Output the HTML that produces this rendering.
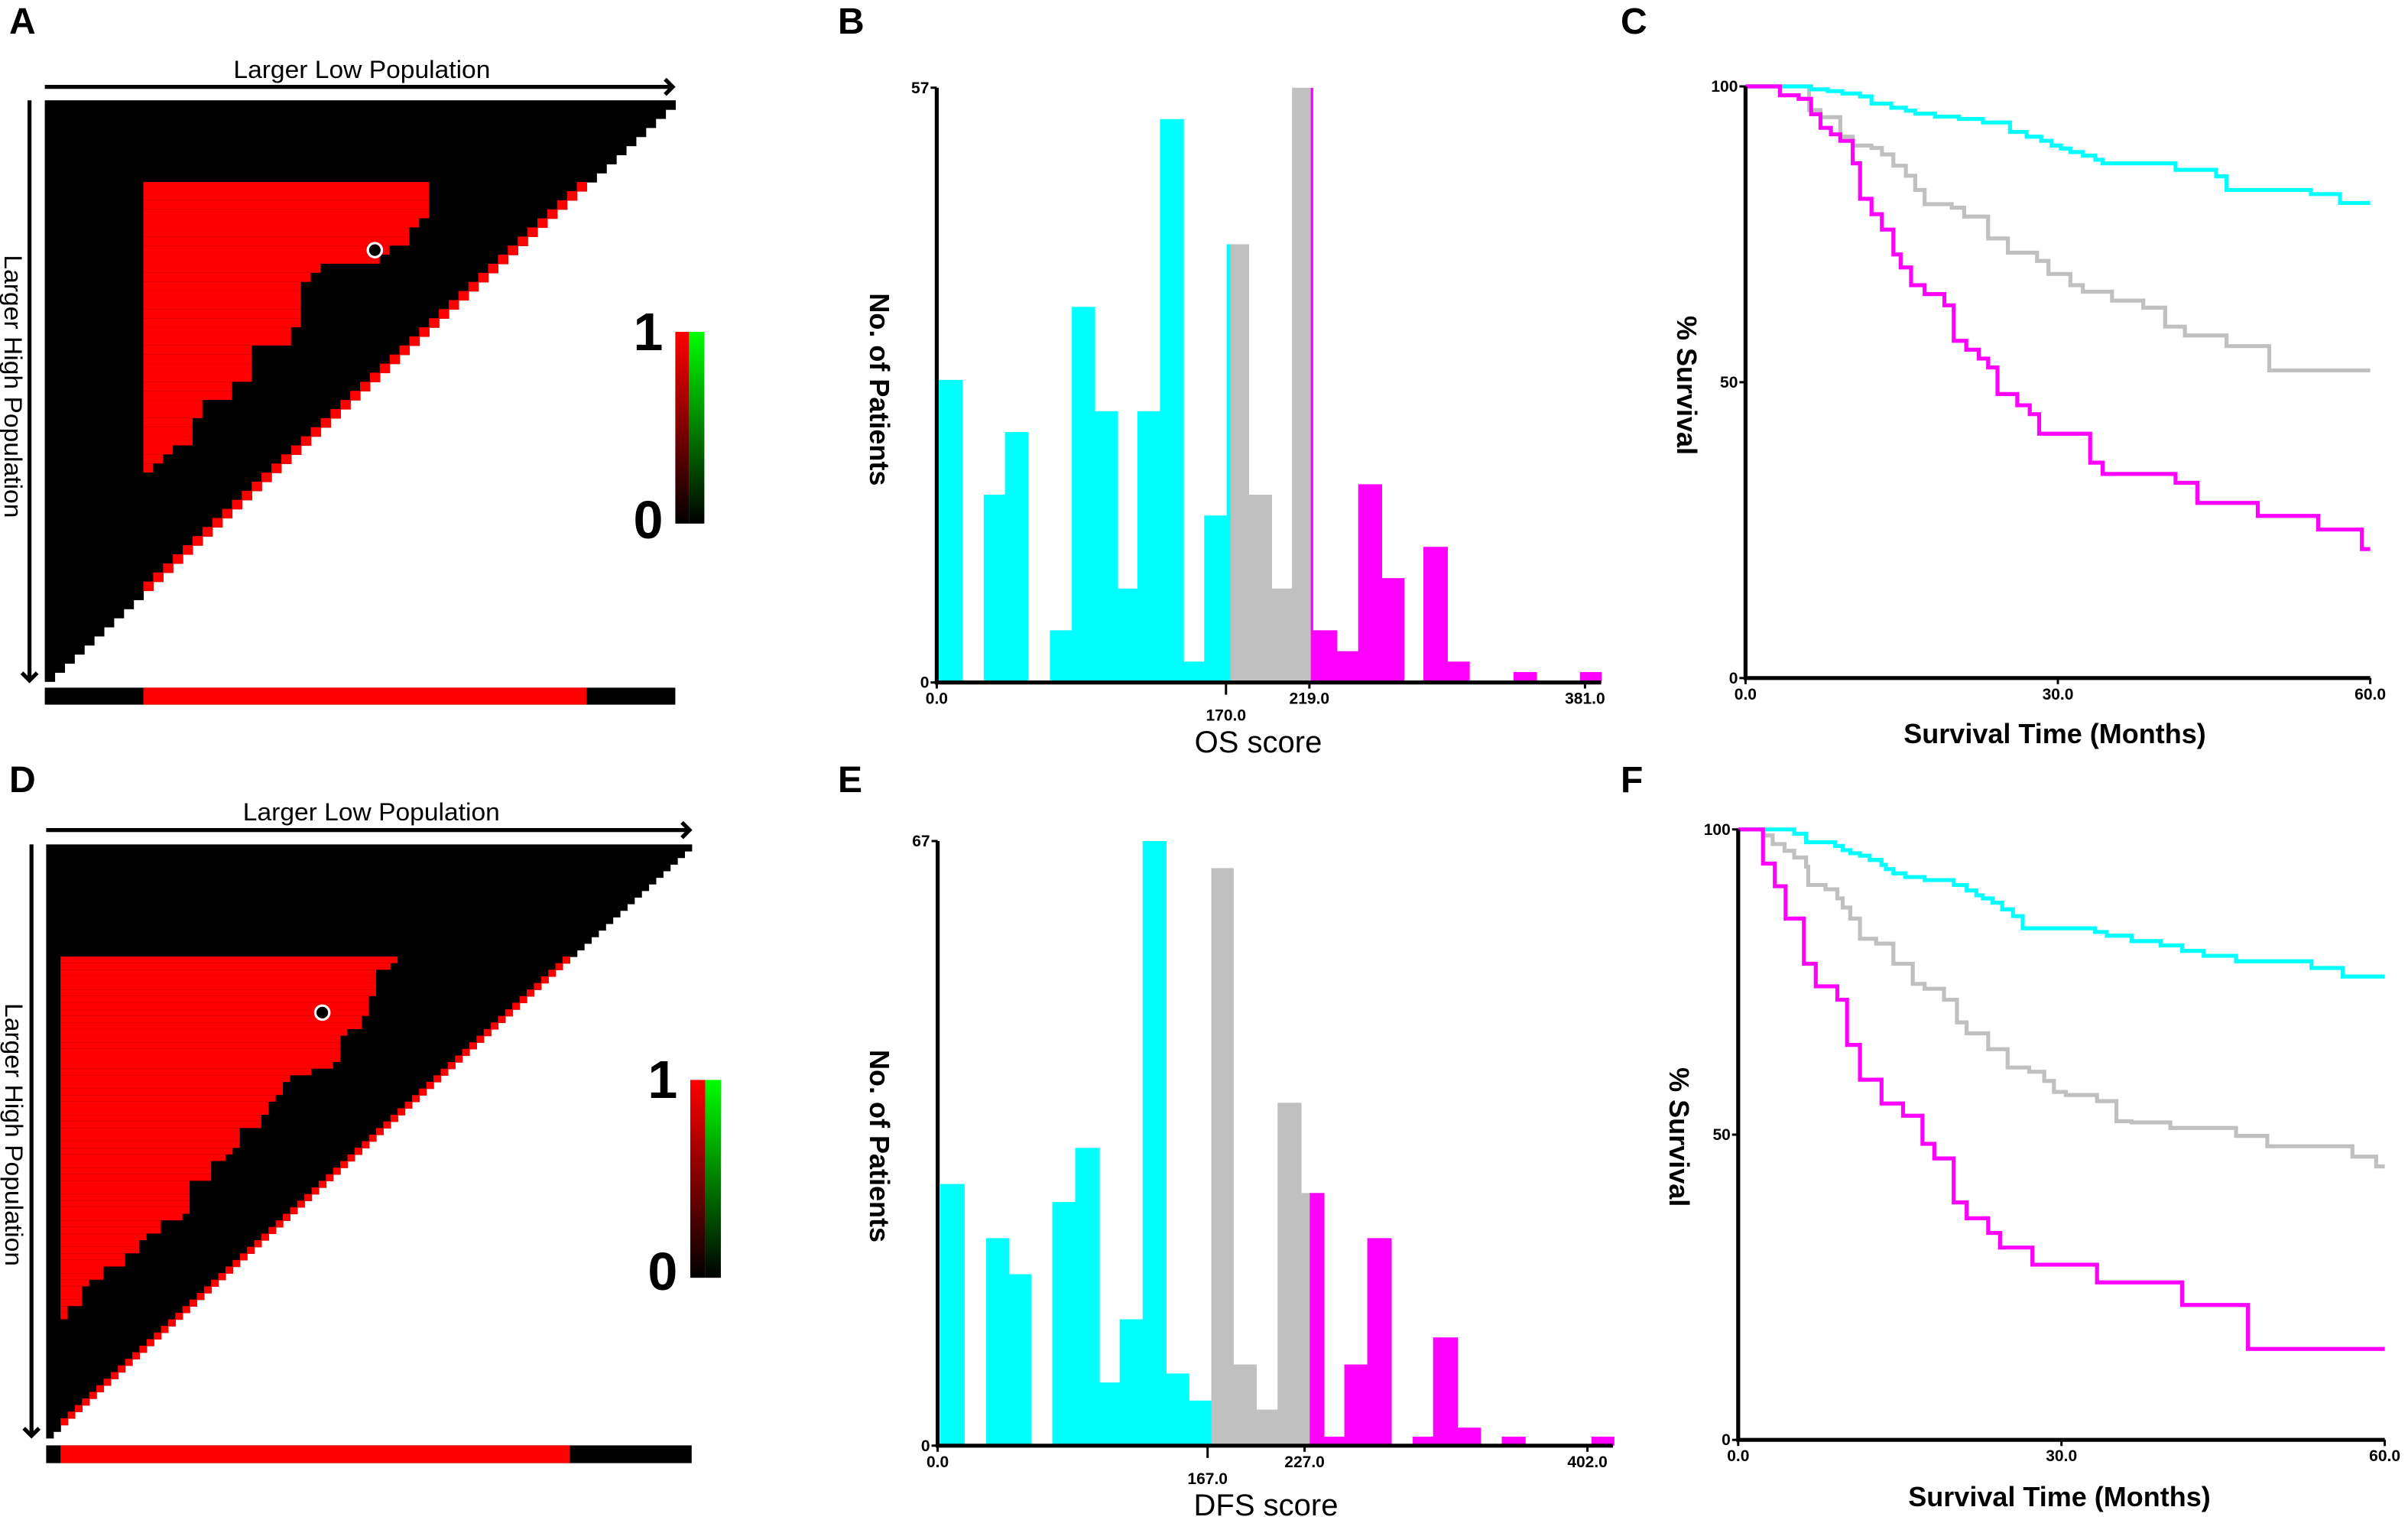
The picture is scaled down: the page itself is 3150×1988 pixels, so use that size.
<!DOCTYPE html>
<html><head><meta charset="utf-8"><style>
html,body{margin:0;padding:0;background:#fff;}
svg{display:block;}
text{font-family:"Liberation Sans",Arial,sans-serif;}
.tk{font-size:10.5px;font-weight:bold;}
.pl{font-size:24px;font-weight:bold;}
.ax{font-size:18px;font-weight:bold;}
.hm{font-size:16px;}
</style></head><body>
<svg id="fig" xmlns="http://www.w3.org/2000/svg" width="3150" height="1988" viewBox="0 0 1575 994">
<text class="pl" x="6" y="22">A</text>
<text class="pl" x="548" y="22">B</text>
<text class="pl" x="1060" y="22">C</text>
<text class="pl" x="6" y="518">D</text>
<text class="pl" x="548" y="518">E</text>
<text class="pl" x="1060" y="518">F</text>
<g id="gA"></g>
<g id="gD"></g>
<g id="gB"></g>
<g id="gE"></g>
<g id="gC"></g>
<g id="gF"></g>
</svg>
<script>
// ===== Histogram B (OS score) =====
const osBinStart=[1.2,27.6,40.1,66.5,79.4,92.8,106.3,118,131.2,145,157.2,170.4,172.8,183.3,196.8,208.8,219.8,221,235.1,247.7,261.5,286,300.1,339,378];
const osBinEnd=[15,40.1,53.6,79.4,92.8,106.3,118,131.2,145,157.2,170.4,172.8,183.3,196.8,208.8,219.8,221,235.1,247.7,261.5,274.6,300.1,313,352.5,390.5];
const osCounts=[29,18,24,5,36,26,9,26,54,2,16,42,42,18,9,57,57,5,3,19,10,13,2,1,1];
const osGroups=["c","c","c","c","c","c","c","c","c","c","c","c","g","g","g","g","m","m","m","m","m","m","m","m","m"];
const osTicks=[0,170,219,381];
const osTickLabels=["0.0","170.0","219.0","381.0"];
// ===== Histogram E (DFS score) =====
const dfsBinStart=[1.6,30,44.1,70.9,85.1,100,112.6,126.8,141.3,155.4,169.3,182.9,197.1,210.3,224.8,230.2,239,251.6,265.8,293.9,306.5,321.6,349,404.5];
const dfsBinEnd=[16.4,44.1,57.7,85.1,100,112.6,126.8,141.3,155.4,169.3,182.9,197.1,210.3,224.8,230.2,239,251.6,265.8,280.6,306.5,321.6,335.8,363.5,418.4];
const dfsCounts=[29,23,19,27,33,7,14,67,8,5,64,9,4,38,28,28,1,9,23,1,12,2,1,1];
const dfsGroups=["c","c","c","c","c","c","c","c","c","c","g","g","g","g","g","m","m","m","m","m","m","m","m","m"];
const dfsTicks=[0,167,227,402];
const dfsTickLabels=["0.0","167.0","227.0","402.0"];
// ===== KM C (OS) =====
const osCyanMonths=[0,6.3,7.9,9.3,11,12.1,14,15.4,16.3,18.2,20.5,22.8,25.4,27,28.4,29.4,30.3,31.2,32.4,33.6,34.3,41.3,45.2,46.2,54.3,57.1,60];
const osCyanSurv=[100,99.5,99.2,98.8,98.3,97.1,96.4,95.9,95.4,94.9,94.5,93.9,92.3,91.5,90.8,90,89.5,88.9,88.3,87.6,87,85.9,84.8,82.5,81.8,80.3,80.3];
const osGrayMonths=[0,6.1,7.2,9.1,10.3,12.1,13.1,14.2,15.4,16.3,17.2,19.8,21,23.3,25.2,28,29.1,31.2,32.4,35.2,38.2,40.3,42.2,46.2,50.3,60];
const osGraySurv=[100,96,94.8,91.5,90,89.6,88.5,86.6,84.9,82.5,80.1,79.5,78,74.3,71.9,70.5,68.3,66.4,65.3,63.8,62.6,59.4,57.9,56.1,52,52];
const osMagMonths=[0,3.3,5.1,6.3,7.2,8.2,9.1,10.3,11,12.1,13.1,14.2,14.9,15.9,17.2,19.1,20,21.2,22.4,23.3,24.2,26.1,27.3,28.2,33.1,34.3,41.3,43.4,49.2,55,59.2,60];
const osMagSurv=[100,98.5,97.9,95.3,93,91.9,90.8,87,81,78.4,75.8,71.6,69.4,66.4,64.9,63,57,55.5,54,52.5,48,46.1,44.6,41.3,36.4,34.5,33,29.6,27.4,25.1,21.8,21.8];
// ===== KM F (DFS) =====
const dfsCyanMonths=[0,5.2,6.3,9,9.7,10.4,11.3,12.2,13.3,13.7,14.4,15.5,17.3,20,21.2,22.1,22.7,23.6,24.5,25.5,26.4,33.1,34.2,36.5,39.2,41.2,43.2,46.2,53.2,56.1,60];
const dfsCyanSurv=[100,99.3,97.9,97.3,96.6,96.1,95.7,95,94.2,93.5,92.8,92.2,91.7,90.9,90,89.2,88.7,88,86.9,85.8,83.8,83.2,82.6,81.7,81,80.1,79.3,78.4,77.3,75.9,75.9];
const dfsGrayMonths=[0,2.3,3.2,4.3,5.2,6.3,6.5,8.1,9.2,9.7,10.4,11.3,12.8,14.4,16.2,17.3,19.1,20.3,21.2,23.2,25,27,28.4,29.3,30.4,33.3,35.1,36.5,40.1,46.2,49.1,57,59.2,60];
const dfsGraySurv=[100,99,97.6,96.5,95.4,93.9,90.9,90.2,88.7,87.2,85.4,82.1,81.3,78,74.7,73.9,72.1,68.4,66.6,64,61,60.3,58.8,57,56.5,55.5,52.2,52,51.1,49.8,48.1,46.4,44.8,44.8];
const dfsMagMonths=[0,2.3,3.4,4.4,6.1,7.2,9.2,10.1,11.3,13.3,15.3,17.1,18.2,20,21.2,23.2,24.3,27.3,33.3,41.2,47.3,60];
const dfsMagSurv=[100,94.4,90.7,85.4,78,74.3,72.1,64.7,59,55.1,53.1,48.5,46.1,38.9,36.3,33.9,31.5,28.7,25.8,22.1,14.9,14.9];
const kmTicksX=[0,30,60];
const kmTickLabelsX=["0.0","30.0","60.0"];
const kmTicksY=[0,50,100];
// ===== Heatmaps =====
const osRedEnds=[39,39,39,39,38,37,37,35,34,28,27,26,26,26,26,26,25,25,21,21,21,21,19,19,16,16,15,15,15,13,12,11];
const dfsRedEnds=[49,48,46,46,46,46,45,45,45,44,44,42,41,41,41,41,40,37,34,33,33,32,31,31,30,30,27,27,27,26,25,23,23,23,20,20,20,20,20,19,16,16,14,13,13,11,11,8,8,6,5,5,5,3,3];

const NS="http://www.w3.org/2000/svg";
function mk(tag,parent){const e=document.createElementNS(NS,tag);parent.appendChild(e);return e;}
function sa(e,o){for(const k in o)e.setAttribute(k,o[k]);return e;}
const COL={c:"#00FFFF",g:"#C0C0C0",m:"#FF00FF"};

function heatmap(g,cfg){
  const cw=(cfg.x1-cfg.x0)/cfg.N, ch=(cfg.y1-cfg.y0)/cfg.N;
  for(let i=0;i<cfg.N;i++){
    const r=sa(mk("rect",g),{x:cfg.x0,y:cfg.y0+i*ch,width:(cfg.N-i)*cw+0.3,height:ch+0.3,fill:"#000"});
    
    
    if(i>=cfg.diagFrom&&i<=cfg.diagTo){
      const d=sa(mk("rect",g),{x:cfg.x0+(cfg.N-1-i)*cw,y:cfg.y0+i*ch,width:cw+0.3,height:ch+0.3,fill:"#FF0000"});
      
      
    }
    const k=i-cfg.redTop;
    if(k>=0&&k<cfg.redEnds.length){
      const rr=sa(mk("rect",g),{x:cfg.x0+cfg.redLeft*cw,y:cfg.y0+i*ch,width:(cfg.redEnds[k]-cfg.redLeft)*cw,height:ch+0.3,fill:"#FF0000"});
      
      
    }
  }
  const dot=sa(mk("circle",g),{cx:cfg.x0+(cfg.dotCol+0.5)*cw,cy:cfg.y0+(cfg.dotRow+0.5)*ch,r:4.6,fill:"#000",stroke:"#fff","stroke-width":1.6});
  
  
  const bb=sa(mk("rect",g),{x:cfg.x0,y:cfg.barY0,width:cfg.x1-cfg.x0,height:cfg.barY1-cfg.barY0,fill:"#000"});
  
  
  const br=sa(mk("rect",g),{x:cfg.x0+cfg.barRed0*cw,y:cfg.barY0,width:(cfg.barRed1-cfg.barRed0)*cw,height:cfg.barY1-cfg.barY0,fill:"#FF0000"});
  
  
  const ah=sa(mk("path",g),{d:`M${cfg.x0},${cfg.arrY} H${cfg.arrX1} M${cfg.arrX1-5},${cfg.arrY-5} L${cfg.arrX1},${cfg.arrY} L${cfg.arrX1-5},${cfg.arrY+5}`,stroke:"#000","stroke-width":2.6,fill:"none"});
  
  
  const av=sa(mk("path",g),{d:`M${cfg.varX},${cfg.y0} V${cfg.varY1} M${cfg.varX-5},${cfg.varY1-5} L${cfg.varX},${cfg.varY1} L${cfg.varX+5},${cfg.varY1-5}`,stroke:"#000","stroke-width":2.6,fill:"none"});
  
  
  const t1=sa(mk("text",g),{x:cfg.txtX,y:cfg.txtY,"text-anchor":"middle",class:"hm",textLength:168,lengthAdjust:"spacingAndGlyphs"});
  t1.textContent="Larger Low Population";
  
  
  const t2=sa(mk("text",g),{x:0,y:0,"text-anchor":"middle",class:"hm",transform:`translate(${cfg.vtX},${cfg.vtY}) rotate(90)`,textLength:172,lengthAdjust:"spacingAndGlyphs"});
  t2.textContent="Larger High Population";
  
  
  const defs=mk("defs",g);
  const gr1=sa(mk("linearGradient",defs),{id:cfg.id+"r",x1:0,y1:0,x2:0,y2:1});
  sa(mk("stop",gr1),{offset:0,"stop-color":"#FF0000"});sa(mk("stop",gr1),{offset:1,"stop-color":"#000"});
  const gr2=sa(mk("linearGradient",defs),{id:cfg.id+"g",x1:0,y1:0,x2:0,y2:1});
  sa(mk("stop",gr2),{offset:0,"stop-color":"#00FF00"});sa(mk("stop",gr2),{offset:1,"stop-color":"#000"});
  const c1=sa(mk("rect",g),{x:cfg.cbX0,y:cfg.cbY0,width:cfg.cbX1-cfg.cbX0,height:cfg.cbY1-cfg.cbY0,fill:`url(#${cfg.id}r)`});
  
  
  const c2=sa(mk("rect",g),{x:cfg.cbX1,y:cfg.cbY0,width:cfg.cbX2-cfg.cbX1,height:cfg.cbY1-cfg.cbY0,fill:`url(#${cfg.id}g)`});
  
  
  const l1=sa(mk("text",g),{x:cfg.cbLX,y:cfg.cb1Y,"text-anchor":"middle","font-size":35,"font-weight":600});
  l1.textContent="1";
  
  
  const l0=sa(mk("text",g),{x:cfg.cbLX,y:cfg.cb0Y,"text-anchor":"middle","font-size":35,"font-weight":600});
  l0.textContent="0";
  
  
}
heatmap(document.getElementById("gA"),{id:"A",N:64,x0:29.3,x1:441.7,y0:65.6,y1:445.6,diagFrom:9,diagTo:53,redTop:9,redLeft:10,redEnds:osRedEnds,dotCol:33,dotRow:16,barY0:449.7,barY1:460.8,barRed0:10,barRed1:55,arrY:56.8,arrX1:440,varX:19.3,varY1:445,txtX:236.7,txtY:51,vtX:3,vtY:252.7,cbX0:441.7,cbX1:450.7,cbX2:460.7,cbY0:217,cbY1:342.4,cbLX:424,cb1Y:229,cb0Y:352});
heatmap(document.getElementById("gD"),{id:"D",N:90,x0:30.2,x1:452.4,y0:552.2,y1:940.4,diagFrom:17,diagTo:87,redTop:17,redLeft:2,redEnds:dfsRedEnds,dotCol:38,dotRow:25,barY0:945.2,barY1:956.8,barRed0:2,barRed1:73,arrY:542.8,arrX1:451,varX:20.6,varY1:939,txtX:242.9,txtY:536.5,vtX:3.5,vtY:742,cbX0:451.5,cbX1:461.3,cbX2:471.5,cbY0:706.2,cbY1:835.6,cbLX:433.4,cb1Y:718,cb0Y:843.5});

function hist(g,cfg){
  const X=v=>cfg.xa+(v)*(cfg.xb-cfg.xa)/cfg.vmax;
  const Y=v=>cfg.ya+(v)*(cfg.yb-cfg.ya)/cfg.ymax;
  for(let i=0;i<cfg.counts.length;i++){
    const x0=X(cfg.starts[i]),x1=X(cfg.ends[i]),y=Y(cfg.counts[i]);
    const r=sa(mk("rect",g),{x:x0,y:y,width:x1-x0+0.3,height:cfg.ya-y,fill:COL[cfg.groups[i]]});
    
    
  }
  const ax=sa(mk("path",g),{d:`M${cfg.xa},${cfg.yb} V${cfg.ya} H${X(cfg.axisEnd)}`,stroke:"#000","stroke-width":2.6,fill:"none"});
  
  
  const yt=sa(mk("path",g),{d:`M${cfg.xa-4},${cfg.yb} H${cfg.xa} M${cfg.xa-4},${cfg.ya} H${cfg.xa}`,stroke:"#000","stroke-width":1.5});
  
  
  const ty=sa(mk("text",g),{x:cfg.xa-5,y:cfg.yb+3.5,"text-anchor":"end",class:"tk"});
  ty.textContent=String(cfg.ymax);
  
  
  const t0=sa(mk("text",g),{x:cfg.xa-5,y:cfg.ya+3.5,"text-anchor":"end",class:"tk"});
  t0.textContent="0";
  
  
  for(let i=0;i<cfg.ticks.length;i++){
    const x=X(cfg.ticks[i]);
    const tm=sa(mk("path",g),{d:`M${x},${cfg.ya} V${cfg.ya+(i==1?8:4)}`,stroke:"#000","stroke-width":1.5});
    
    
    const tl=sa(mk("text",g),{x:x,y:cfg.ya+(i==1?25:14),"text-anchor":"middle",class:"tk"});
    tl.textContent=cfg.tickLabels[i];
    
    
  }
  const xt=sa(mk("text",g),{x:cfg.titleX,y:cfg.titleY,"text-anchor":"middle","font-size":20});
  xt.textContent=cfg.title;
  
  
  const ytl=sa(mk("text",g),{x:0,y:0,"text-anchor":"middle",class:"ax",transform:`translate(${cfg.ytX},${cfg.ytY}) rotate(90)`});
  ytl.textContent="No. of Patients";
  
  
}
hist(document.getElementById("gB"),{xa:612.7,xb:1036.7,vmax:381,ya:446.3,yb:57.4,ymax:57,axisEnd:390.5,starts:osBinStart,ends:osBinEnd,counts:osCounts,groups:osGroups,ticks:osTicks,tickLabels:osTickLabels,title:"OS score",titleX:823,titleY:492,ytX:569,ytY:254.7});
hist(document.getElementById("gE"),{xa:613.3,xb:1038.3,vmax:402,ya:945.4,yb:550,ymax:67,axisEnd:417.8,starts:dfsBinStart,ends:dfsBinEnd,counts:dfsCounts,groups:dfsGroups,ticks:dfsTicks,tickLabels:dfsTickLabels,title:"DFS score",titleX:828,titleY:991,ytX:569,ytY:749.5});

function km(g,cfg){
  const X=m=>cfg.xa+m*(cfg.xb-cfg.xa)/60;
  const Y=p=>cfg.ya+p*(cfg.yb-cfg.ya)/100;
  const series=[[cfg.gm,cfg.gs,"#C0C0C0","survival-curve-intermediate"],[cfg.cm,cfg.cs,"#00FFFF","survival-curve-low"],[cfg.mm,cfg.ms,"#FF00FF","survival-curve-high"]];
  for(const s of series){
    let d=`M${X(s[0][0])},${Y(s[1][0])}`;
    for(let i=1;i<s[0].length;i++){d+=` H${X(s[0][i])} V${Y(s[1][i])}`;}
    const p=sa(mk("path",g),{d:d,stroke:s[2],"stroke-width":2.6,fill:"none"});
    
    
  }
  const ax=sa(mk("path",g),{d:`M${cfg.xa},${cfg.yb} V${cfg.ya} H${cfg.xb}`,stroke:"#000","stroke-width":2.6,fill:"none"});
  
  
  for(let i=0;i<kmTicksY.length;i++){
    const y=Y(kmTicksY[i]);
    const tm=sa(mk("path",g),{d:`M${cfg.xa-4},${y} H${cfg.xa}`,stroke:"#000","stroke-width":1.5});
    
    
    const tl=sa(mk("text",g),{x:cfg.xa-5,y:y+3.5,"text-anchor":"end",class:"tk"});
    tl.textContent=String(kmTicksY[i]);
    
    
  }
  for(let i=0;i<kmTicksX.length;i++){
    const x=X(kmTicksX[i]);
    const tm=sa(mk("path",g),{d:`M${x},${cfg.ya} V${cfg.ya+4}`,stroke:"#000","stroke-width":1.5});
    
    
    const tl=sa(mk("text",g),{x:x,y:cfg.ya+14,"text-anchor":"middle",class:"tk"});
    tl.textContent=kmTickLabelsX[i];
    
    
  }
  const xt=sa(mk("text",g),{x:cfg.tX,y:cfg.tY,"text-anchor":"middle",class:"ax"});
  xt.textContent="Survival Time (Months)";
  
  
  const yt=sa(mk("text",g),{x:0,y:0,"text-anchor":"middle",class:"ax",transform:`translate(${cfg.yX},${cfg.yY}) rotate(90)`});
  yt.textContent="% Survival";
  
  
}
km(document.getElementById("gC"),{xa:1141.7,xb:1550.3,ya:443.4,yb:56.5,cm:osCyanMonths,cs:osCyanSurv,gm:osGrayMonths,gs:osGraySurv,mm:osMagMonths,ms:osMagSurv,tX:1344,tY:486,yX:1097,yY:252});
km(document.getElementById("gF"),{xa:1136.9,xb:1559.8,ya:941.6,yb:542.4,cm:dfsCyanMonths,cs:dfsCyanSurv,gm:dfsGrayMonths,gs:dfsGraySurv,mm:dfsMagMonths,ms:dfsMagSurv,tX:1347,tY:985,yX:1092,yY:743.6});
</script>
</body></html>
